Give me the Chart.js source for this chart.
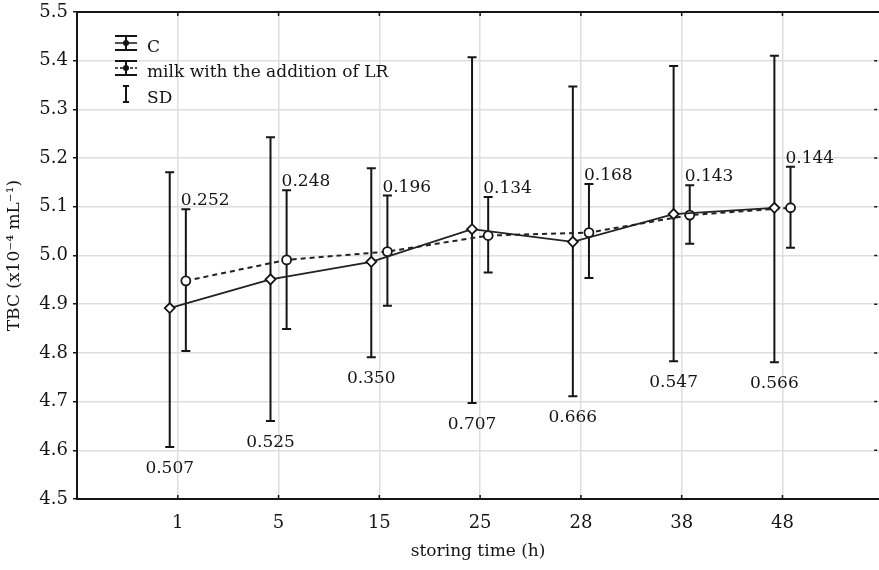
<!DOCTYPE html>
<html lang="en">
<head>
<meta charset="UTF-8">
<title>TBC vs storing time</title>
<script src="https://cdn.jsdelivr.net/npm/chart.js"></script>
<style>
  html, body { margin: 0; background: #fff; overflow: hidden; }
  /* a little wider than the window: the plot runs off the right edge like the original */
  #wrap { width: 886px; height: 570px; }
</style>
</head>
<body>
<div id="wrap"><canvas id="myChart"></canvas></div>
<script>
// data
const categories = ['1', '5', '15', '25', '28', '38', '48'];
const controlMean = [4.892, 4.951, 4.987, 5.054, 5.028, 5.085, 5.098];
const controlHigh = [5.171, 5.243, 5.179, 5.407, 5.347, 5.389, 5.410];
const controlLow  = [4.607, 4.660, 4.791, 4.697, 4.711, 4.783, 4.781];
const controlSD   = ['0.507', '0.525', '0.350', '0.707', '0.666', '0.547', '0.566'];
const lrMean = [4.948, 4.991, 5.008, 5.041, 5.047, 5.083, 5.098];
const lrHigh = [5.095, 5.134, 5.123, 5.120, 5.147, 5.144, 5.182];
const lrLow  = [4.804, 4.849, 4.897, 4.965, 4.954, 5.024, 5.016];
const lrSD   = ['0.252', '0.248', '0.196', '0.134', '0.168', '0.143', '0.144'];
const legendLabels = ['C', 'milk with the addition of LR', 'SD'];

const SHIFT = 0.08;   // horizontal offset of the two series
const CAP = 4.5;      // half width of error bar caps
const INK = '#151515';
const FONT = "'DejaVu Serif', serif";

Chart.defaults.font.family = FONT;
Chart.defaults.font.size = 17;
Chart.defaults.color = INK;

const noPad = s => { s.paddingTop = 0; s.paddingBottom = 0; s.paddingLeft = 0; s.paddingRight = 0; };

// error bars under the markers, SD numbers on top
const errorBars = {
    id: 'errorBars',
    beforeDatasetsDraw(chart) {
        const { ctx, scales: { x, y } } = chart;
        ctx.save();
        ctx.strokeStyle = INK;
        ctx.lineWidth = 2;
        [[controlLow, controlHigh, -SHIFT], [lrLow, lrHigh, SHIFT]].forEach(([lo, hi, dx]) => {
            categories.forEach((c, i) => {
                const px = x.getPixelForValue(i + 1 + dx);
                const top = y.getPixelForValue(hi[i]);
                const bot = y.getPixelForValue(lo[i]);
                ctx.beginPath();
                ctx.moveTo(px, top); ctx.lineTo(px, bot);
                ctx.moveTo(px - CAP, top); ctx.lineTo(px + CAP, top);
                ctx.moveTo(px - CAP, bot); ctx.lineTo(px + CAP, bot);
                ctx.stroke();
            });
        });
        ctx.restore();
    },
    afterDatasetsDraw(chart) {
        const { ctx, scales: { x, y } } = chart;
        ctx.save();
        ctx.fillStyle = INK;
        ctx.font = '17px ' + FONT;
        ctx.textBaseline = 'alphabetic';
        categories.forEach((c, i) => {
            // SD of LR above its bar
            ctx.textAlign = 'left';
            ctx.fillText(lrSD[i], x.getPixelForValue(i + 1 + SHIFT) - 5, y.getPixelForValue(lrHigh[i]) - 4);
            // SD of C below its bar
            ctx.textAlign = 'center';
            ctx.fillText(controlSD[i], x.getPixelForValue(i + 1 - SHIFT), y.getPixelForValue(controlLow[i]) + 26);
        });
        ctx.restore();
    }
};

// top frame line, inward ticks, legend box
const frame = {
    id: 'frame',
    afterDraw(chart) {
        const { ctx, chartArea: a, scales: { x, y } } = chart;
        ctx.save();
        ctx.strokeStyle = INK;
        ctx.lineWidth = 2;
        ctx.beginPath();
        ctx.moveTo(a.left, a.top); ctx.lineTo(a.right, a.top);
        ctx.stroke();
        ctx.lineWidth = 1.5;
        ctx.beginPath();
        categories.forEach((c, i) => {
            const px = x.getPixelForValue(i + 1);
            ctx.moveTo(px, a.top); ctx.lineTo(px, a.top + 4);
            ctx.moveTo(px, a.bottom); ctx.lineTo(px, a.bottom - 4);
        });
        y.ticks.forEach(t => {
            const py = y.getPixelForValue(t.value);
            ctx.moveTo(a.right - 2, py); ctx.lineTo(a.right - 5, py);
        });
        ctx.stroke();

        // legend
        const lx = 126, tx = 147;
        const rows = [43, 68, 94];
        ctx.lineWidth = 2;
        rows.forEach((cy, k) => {
            const half = k < 2 ? 11 : 3;
            const h = k < 2 ? 7 : 8;
            ctx.setLineDash([]);
            ctx.beginPath();
            ctx.moveTo(lx - half, cy - h); ctx.lineTo(lx + half, cy - h);
            ctx.moveTo(lx - half, cy + h); ctx.lineTo(lx + half, cy + h);
            ctx.moveTo(lx, cy - h); ctx.lineTo(lx, cy + h);
            ctx.stroke();
            if (k < 2) {
                ctx.lineWidth = 1.5;
                ctx.setLineDash(k === 1 ? [3, 2] : []);
                ctx.beginPath();
                ctx.moveTo(lx - half, cy); ctx.lineTo(lx + half, cy);
                ctx.stroke();
                ctx.setLineDash([]);
                ctx.beginPath();
                ctx.arc(lx, cy, 3, 0, Math.PI * 2);
                ctx.fillStyle = INK;
                ctx.fill();
                ctx.lineWidth = 2;
            }
            ctx.fillStyle = INK;
            ctx.font = '17px ' + FONT;
            ctx.textAlign = 'left';
            ctx.textBaseline = 'middle';
            ctx.fillText(legendLabels[k], tx, cy + 5);
        });
        ctx.restore();
    }
};

const ctx = document.getElementById('myChart').getContext('2d');
new Chart(ctx, {
    type: 'line',
    data: {
        datasets: [
            {
                label: legendLabels[0],
                data: controlMean.map((v, i) => ({ x: i + 1 - SHIFT, y: v })),
                borderColor: '#222',
                borderWidth: 1.8,
                pointStyle: 'rectRot',
                pointRadius: 5,
                pointBorderWidth: 1.8,
                pointBackgroundColor: '#fff',
                pointBorderColor: INK,
                tension: 0
            },
            {
                label: legendLabels[1],
                data: lrMean.map((v, i) => ({ x: i + 1 + SHIFT, y: v })),
                borderColor: '#222',
                borderWidth: 2,
                borderDash: [5, 4],
                pointStyle: 'circle',
                pointRadius: 4.5,
                pointBorderWidth: 1.8,
                pointBackgroundColor: '#fff',
                pointBorderColor: INK,
                tension: 0
            }
        ]
    },
    options: {
        responsive: true,
        maintainAspectRatio: false,
        animation: false,
        layout: { padding: { top: 12, right: 0, left: 0, bottom: 0 } },
        plugins: {
            legend: { display: false },
            tooltip: { enabled: false }
        },
        scales: {
            x: {
                type: 'linear',
                min: 0,
                max: 7.96,
                afterBuildTicks: s => { s.ticks = categories.map((c, i) => ({ value: i + 1 })); },
                afterFit: s => { s.height = 71; noPad(s); },
                ticks: {
                    padding: 14,
                    maxRotation: 0,
                    font: { size: 18 },
                    callback: v => categories[v - 1] || ''
                },
                grid: { color: '#dedede', lineWidth: 1.5, drawTicks: false },
                border: { color: INK, width: 2 },
                title: {
                    display: true,
                    text: 'storing time (h)',
                    font: { size: 17 },
                    padding: { top: 0, bottom: 8 }
                }
            },
            y: {
                min: 4.5,
                max: 5.5,
                afterFit: s => { s.width = 77; noPad(s); },
                ticks: {
                    stepSize: 0.1,
                    padding: 5,
                    font: { size: 18 },
                    callback: v => v.toFixed(1)
                },
                grid: { color: '#dedede', lineWidth: 1.5, tickLength: 4, tickColor: INK },
                border: { color: INK, width: 2 },
                title: {
                    display: true,
                    text: 'TBC (x10⁻⁴ mL⁻¹)',
                    font: { size: 17 },
                    padding: { top: 4, bottom: 0 }
                }
            }
        }
    },
    plugins: [errorBars, frame]
});
</script>
</body>
</html>
